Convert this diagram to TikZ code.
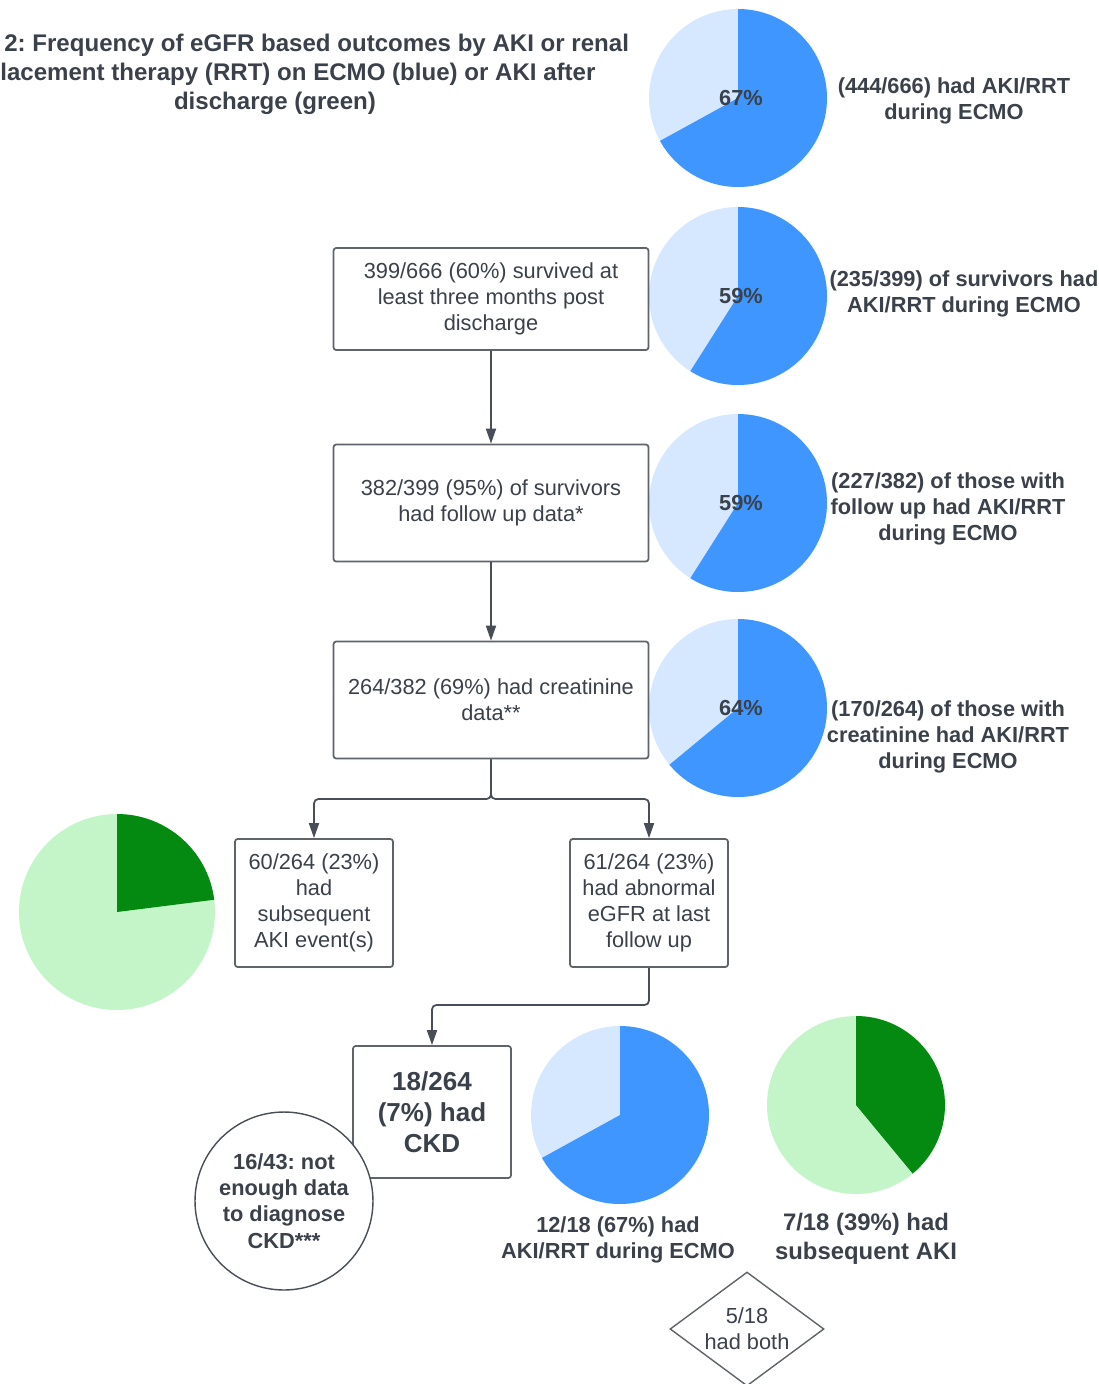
\documentclass[tikz,border=0pt]{standalone}
\usepackage{fontspec}
\setmainfont{Liberation Sans}
\usetikzlibrary{arrows.meta,shapes.geometric}
\frenchspacing

\definecolor{txtgrey}{RGB}{58,65,74}
\definecolor{linegrey}{RGB}{95,99,106}
\definecolor{arrowgrey}{RGB}{72,78,88}
\definecolor{pieblue}{RGB}{64,150,255}
\definecolor{lightblue}{RGB}{214,232,255}
\definecolor{piegreen}{RGB}{4,137,17}
\definecolor{lightgreen}{RGB}{195,245,201}

\tikzset{
	box/.style={draw=linegrey, line width=1pt, rounded corners=1.5pt, fill=white, align=center, text=txtgrey, inner sep=1pt, font=\fontsize{12.4}{14.9}\selectfont},
	lbl/.style={align=center, text=txtgrey, font=\bfseries\fontsize{12.4}{14.9}\selectfont},
	title/.style={inner sep=0pt, text=txtgrey, font=\bfseries\fontsize{13.7}{16.5}\selectfont},
	arr/.style={draw=arrowgrey, line width=1pt, rounded corners=2.5pt, -{Triangle[width=0.2cm,length=0.3cm]}},
}

\begin{document}
\begin{tikzpicture}[x=0.02cm, y=-0.02cm]
	\useasboundingbox (0,0) rectangle (1099,1384);

	\node[title, anchor=west] (title1) at (4,45) {2: Frequency of eGFR based outcomes by AKI or renal};
	\node[title, anchor=west] (title2) at (0,74) {lacement therapy (RRT) on ECMO (blue) or AKI after};
	\node[title] (title3) at (275,103) {discharge (green)};

	\foreach \cy/\p [count=\i] in {98/67, 296/59, 503/59, 708/64}{
		\pgfmathsetmacro{\e}{90-3.6*\p}
		\fill[lightblue] (738,\cy) circle (1.78cm);
		\fill[pieblue] (738,\cy) -- ++(90:1.78cm) arc[start angle=90, end angle=\e, radius=1.78cm] -- cycle;
		\node[lbl] (pct\i) at (741,\cy) {\p\%};
	}
	\node[lbl] (ecmo) at (954,101) {(444/666) had AKI/RRT\\during ECMO};
	\node[lbl] (survecmo) at (964,294) {(235/399) of survivors had\\AKI/RRT during ECMO};
	\node[lbl] (fuecmo) at (948,509) {(227/382) of those with\\follow up had AKI/RRT\\during ECMO};
	\node[lbl] (crecmo) at (948,737) {(170/264) of those with\\creatinine had AKI/RRT\\during ECMO};

	\node[box, minimum width=6.3cm, minimum height=2.04cm] (surv) at (491,299) {399/666 (60\%) survived at\\least three months post\\discharge};
	\node[box, minimum width=6.3cm, minimum height=2.34cm] (fu) at (491,503) {382/399 (95\%) of survivors\\had follow up data*};
	\node[box, minimum width=6.3cm, minimum height=2.34cm] (creat) at (491,700) {264/382 (69\%) had creatinine\\data**};
	\node[box, minimum width=3.16cm, minimum height=2.56cm] (aki) at (314,903) {60/264 (23\%)\\had\\subsequent\\AKI event(s)};
	\node[box, minimum width=3.16cm, minimum height=2.56cm] (abn) at (649,903) {61/264 (23\%)\\had abnormal\\eGFR at last\\follow up};
	\node[box, minimum width=3.16cm, minimum height=2.64cm, font=\bfseries\fontsize{14.8}{17.6}\selectfont] (ckd) at (432,1112) {18/264\\(7\%) had\\CKD};

	\draw[arr] (surv) -- (fu);
	\draw[arr] (fu) -- (creat);
	\coordinate (split) at (491,799);
	\draw[arr] (creat.south) -- (split) -| (aki.north);
	\draw[arr] (creat.south) -- (split) -| (abn.north);
	\coordinate (turn) at (649,1005);
	\draw[arr] (abn.south) -- (turn) -| (ckd.north);

	\node[lbl, circle, draw=arrowgrey, line width=0.8pt, fill=white, minimum size=3.56cm, inner sep=0pt] (nodata) at (284,1201) {16/43: not\\enough data\\to diagnose\\CKD***};

	\fill[lightgreen] (117,912) circle (1.96cm);
	\fill[piegreen] (117,912) -- ++(90:1.96cm) arc[start angle=90, end angle=7.2, radius=1.96cm] -- cycle;

	\fill[lightblue] (620,1115) circle (1.78cm);
	\fill[pieblue] (620,1115) -- ++(90:1.78cm) arc[start angle=90, end angle=-151.2, radius=1.78cm] -- cycle;
	\node[lbl] (ckdecmo) at (618,1240) {12/18 (67\%) had\\AKI/RRT during ECMO};

	\fill[lightgreen] (856,1105) circle (1.78cm);
	\fill[piegreen] (856,1105) -- ++(90:1.78cm) arc[start angle=90, end angle=-50.4, radius=1.78cm] -- cycle;
	\node[lbl, font=\bfseries\fontsize{13.6}{16.2}\selectfont] (ckdaki) at (866,1239) {7/18 (39\%) had\\subsequent AKI};

	\node[diamond, draw=linegrey, line width=0.8pt, aspect=1.35, minimum width=3.08cm, minimum height=2.28cm, inner sep=0pt, align=center, text=txtgrey, font=\fontsize{12.4}{14.9}\selectfont] (both) at (747,1329) {5/18\\had both};
\end{tikzpicture}
\end{document}
